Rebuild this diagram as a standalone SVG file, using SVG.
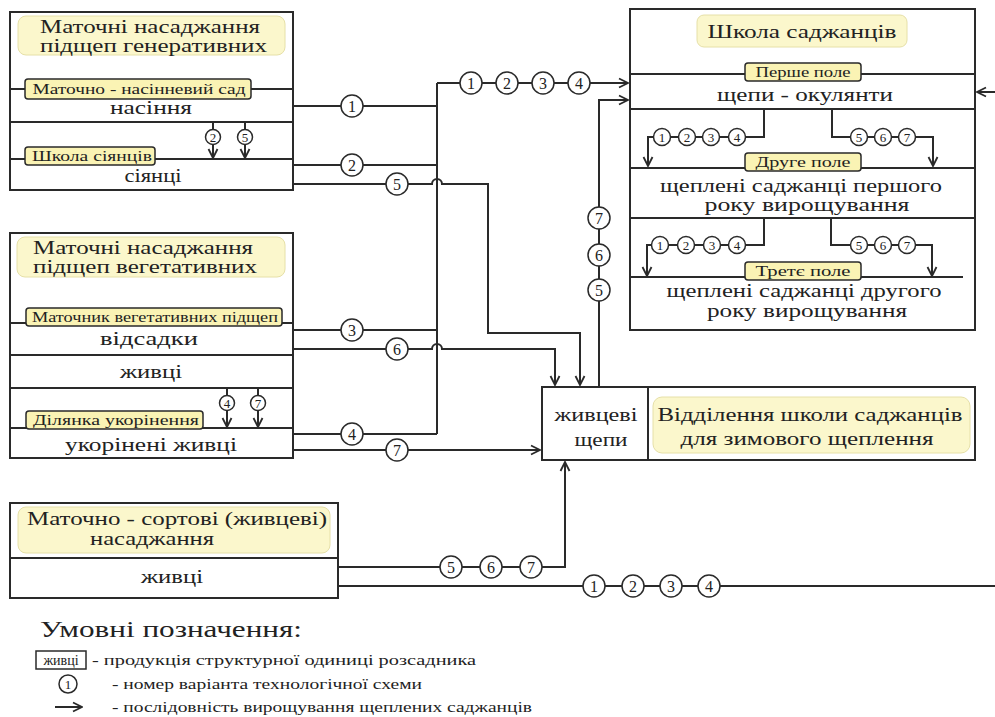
<svg xmlns="http://www.w3.org/2000/svg" width="995" height="717" viewBox="0 0 995 717" font-family="'Liberation Serif', 'DejaVu Serif', serif">
<style>
text{font-family:"Liberation Serif","DejaVu Serif",serif;fill:#222}
.box{fill:#fff;stroke:#2a2a2a;stroke-width:2}
.ln{fill:none;stroke:#2a2a2a;stroke-width:2}
.hd{fill:#fbf7cc;stroke:#e6e0a8;stroke-width:1}
.lb{fill:#faf3b4;stroke:#2a2a2a;stroke-width:1.5}
.c{fill:#fff;stroke:#2a2a2a;stroke-width:1.5}
.t20{font-size:18.5px;text-anchor:middle}
.t21{font-size:19px}
.th{font-size:18px}
.tl{font-size:14.5px;text-anchor:middle}
.tn{font-size:16px;text-anchor:middle}
.ts{font-size:13px;text-anchor:middle}
.lg{font-size:14px}
</style>
<defs>
<marker id="ah" viewBox="0 0 12 12" refX="11" refY="6" markerWidth="12" markerHeight="12" markerUnits="userSpaceOnUse" orient="auto"><path d="M2,1.5 L11,6 L2,10.5" fill="none" stroke="#2a2a2a" stroke-width="1.8"/></marker>
</defs>

<g id="n-generative">
<rect class="box" x="10" y="12" width="283" height="178"/>
<rect class="hd" x="18" y="16" width="267" height="39" rx="8"/>
<text class="th" x="40" y="33" textLength="220" lengthAdjust="spacingAndGlyphs">Маточні насаджання</text>
<text class="th" x="40" y="52" textLength="227" lengthAdjust="spacingAndGlyphs">підщеп генеративних</text>
<path class="ln" d="M10,89 H293 M10,122 H293 M10,159 H293"/>
<rect class="lb" x="25" y="79" width="226" height="20" rx="3"/>
<text class="tl" x="139" y="94" textLength="213" lengthAdjust="spacingAndGlyphs">Маточно - насінневий сад</text>
<text class="t20" x="151" y="114" textLength="82" lengthAdjust="spacingAndGlyphs">насіння</text>
<rect class="lb" x="25" y="147" width="130" height="18" rx="3"/>
<text class="tl" x="92" y="161" textLength="120" lengthAdjust="spacingAndGlyphs">Школа сіянців</text>
<text class="t20" x="153" y="182" textLength="57" lengthAdjust="spacingAndGlyphs">сіянці</text>
</g>

<g id="n-vegetative">
<rect class="box" x="10" y="233" width="283" height="225"/>
<rect class="hd" x="17" y="237" width="268" height="40" rx="8"/>
<text class="th" x="33" y="254" textLength="220" lengthAdjust="spacingAndGlyphs">Маточні насаджання</text>
<text class="th" x="33" y="273" textLength="224" lengthAdjust="spacingAndGlyphs">підщеп вегетативних</text>
<path class="ln" d="M10,323 H293 M10,355 H293 M10,388 H293 M10,428 H293"/>
<rect class="lb" x="26" y="308" width="256" height="18" rx="3"/>
<text class="tl" x="155" y="322" textLength="246" lengthAdjust="spacingAndGlyphs">Маточник вегетативних підщеп</text>
<text class="t20" x="149" y="345" textLength="98" lengthAdjust="spacingAndGlyphs">відсадки</text>
<text class="t20" x="151" y="378" textLength="62" lengthAdjust="spacingAndGlyphs">живці</text>
<rect class="lb" x="26" y="411" width="177" height="18" rx="3"/>
<text class="tl" x="116" y="425" textLength="166" lengthAdjust="spacingAndGlyphs">Ділянка укорінення</text>
<text class="t20" x="151" y="451" textLength="172" lengthAdjust="spacingAndGlyphs">укорінені живці</text>
</g>

<g id="n-school">
<rect class="box" x="630" y="9" width="345" height="321"/>
<rect class="hd" x="697" y="15" width="210" height="32" rx="7"/>
<text class="t21" x="802" y="38" text-anchor="middle" textLength="189" lengthAdjust="spacingAndGlyphs">Школа саджанців</text>
<path class="ln" d="M630,74 H975 M630,109 H975 M630,168 H975 M630,218 H975 M630,277 H963"/>
<rect class="lb" x="745" y="63" width="116" height="18" rx="3"/>
<text class="tl" x="803" y="77" textLength="95" lengthAdjust="spacingAndGlyphs">Перше поле</text>
<text class="t20" x="805" y="101" textLength="176" lengthAdjust="spacingAndGlyphs">щепи - окулянти</text>
<rect class="lb" x="745" y="153" width="116" height="18" rx="3"/>
<text class="tl" x="803" y="167" textLength="95" lengthAdjust="spacingAndGlyphs">Друге поле</text>
<text class="t20" x="801" y="192" textLength="282" lengthAdjust="spacingAndGlyphs">щеплені саджанці першого</text>
<text class="t20" x="807" y="211" textLength="205" lengthAdjust="spacingAndGlyphs">року вирощування</text>
<rect class="lb" x="745" y="262" width="116" height="18" rx="3"/>
<text class="tl" x="803" y="276" textLength="95" lengthAdjust="spacingAndGlyphs">Третє поле</text>
<text class="t20" x="804" y="297" textLength="275" lengthAdjust="spacingAndGlyphs">щеплені саджанці другого</text>
<text class="t20" x="807" y="317" textLength="200" lengthAdjust="spacingAndGlyphs">року вирощування</text>
</g>

<g id="n-winter">
<rect class="box" x="542" y="387" width="433" height="73"/>
<path class="ln" d="M648,387 V460"/>
<text class="t20" x="596" y="421" textLength="83" lengthAdjust="spacingAndGlyphs">живцеві</text>
<text class="t20" x="601" y="446" textLength="53" lengthAdjust="spacingAndGlyphs">щепи</text>
<rect class="hd" x="653" y="397" width="317" height="56" rx="9"/>
<text class="t21" x="810" y="421" text-anchor="middle" textLength="305" lengthAdjust="spacingAndGlyphs">Відділення школи саджанців</text>
<text class="t21" x="807" y="445" text-anchor="middle" textLength="253" lengthAdjust="spacingAndGlyphs">для зимового щеплення</text>
</g>

<g id="n-varietal">
<rect class="box" x="10" y="503" width="328" height="95"/>
<rect class="hd" x="18" y="507" width="312" height="46" rx="8"/>
<text class="t21" x="27" y="525" textLength="300" lengthAdjust="spacingAndGlyphs">Маточно - сортові (живцеві)</text>
<text class="t21" x="90" y="545" textLength="124" lengthAdjust="spacingAndGlyphs">насаджання</text>
<path class="ln" d="M10,558 H338"/>
<text class="t20" x="172" y="583" textLength="62" lengthAdjust="spacingAndGlyphs">живці</text>
</g>

<g id="connectors">
<path class="ln" d="M437,83 V434"/>
<path class="ln" d="M293,106 H437"/>
<path class="ln" d="M293,165 H437"/>
<path class="ln" d="M437,83 H628" marker-end="url(#ah)"/>
<path class="ln" d="M293,184 H432 A5,5 0 0 1 442,184 H488 V333 H580 V385" marker-end="url(#ah)"/>
<path class="ln" d="M293,330 H437"/>
<path class="ln" d="M293,349 H432 A5,5 0 0 1 442,349 H555 V385" marker-end="url(#ah)"/>
<path class="ln" d="M293,434 H437"/>
<path class="ln" d="M293,450 H540" marker-end="url(#ah)"/>
<path class="ln" d="M599,387 V100 H628" marker-end="url(#ah)"/>
<path class="ln" d="M338,567 H565 V462" marker-end="url(#ah)"/>
<path class="ln" d="M338,586 H995"/>
<path class="ln" d="M995,92 H977" marker-end="url(#ah)"/>
<path class="ln" d="M213,122 V158" marker-end="url(#ah)"/>
<path class="ln" d="M245,122 V158" marker-end="url(#ah)"/>
<path class="ln" d="M227,388 V427" marker-end="url(#ah)"/>
<path class="ln" d="M258,388 V427" marker-end="url(#ah)"/>
<path class="ln" d="M764,109 V137 H648 V166" marker-end="url(#ah)"/>
<path class="ln" d="M832,109 V137 H933 V166" marker-end="url(#ah)"/>
<path class="ln" d="M764,218 V245 H647 V276" marker-end="url(#ah)"/>
<path class="ln" d="M831,218 V245 H932 V276" marker-end="url(#ah)"/>
<g>
<circle class="c" cx="352" cy="106" r="11"/><text class="tn" x="352" y="112">1</text>
<circle class="c" cx="352" cy="165" r="11"/><text class="tn" x="352" y="171">2</text>
<circle class="c" cx="397" cy="184" r="11"/><text class="tn" x="397" y="190">5</text>
<circle class="c" cx="471" cy="83" r="11"/><text class="tn" x="471" y="89">1</text>
<circle class="c" cx="507" cy="83" r="11"/><text class="tn" x="507" y="89">2</text>
<circle class="c" cx="543" cy="83" r="11"/><text class="tn" x="543" y="89">3</text>
<circle class="c" cx="579" cy="83" r="11"/><text class="tn" x="579" y="89">4</text>
<circle class="c" cx="352" cy="330" r="11"/><text class="tn" x="352" y="336">3</text>
<circle class="c" cx="397" cy="349" r="11"/><text class="tn" x="397" y="355">6</text>
<circle class="c" cx="352" cy="434" r="11"/><text class="tn" x="352" y="440">4</text>
<circle class="c" cx="397" cy="450" r="11"/><text class="tn" x="397" y="456">7</text>
<circle class="c" cx="599" cy="218" r="11"/><text class="tn" x="599" y="224">7</text>
<circle class="c" cx="599" cy="255" r="11"/><text class="tn" x="599" y="261">6</text>
<circle class="c" cx="599" cy="290" r="11"/><text class="tn" x="599" y="296">5</text>
<circle class="c" cx="451" cy="567" r="11"/><text class="tn" x="451" y="573">5</text>
<circle class="c" cx="491" cy="567" r="11"/><text class="tn" x="491" y="573">6</text>
<circle class="c" cx="531" cy="567" r="11"/><text class="tn" x="531" y="573">7</text>
<circle class="c" cx="594" cy="586" r="11"/><text class="tn" x="594" y="592">1</text>
<circle class="c" cx="633" cy="586" r="11"/><text class="tn" x="633" y="592">2</text>
<circle class="c" cx="671" cy="586" r="11"/><text class="tn" x="671" y="592">3</text>
<circle class="c" cx="709" cy="586" r="11"/><text class="tn" x="709" y="592">4</text>
<circle class="c" cx="213" cy="137" r="7.5"/><text class="ts" x="213" y="142">2</text>
<circle class="c" cx="245" cy="137" r="7.5"/><text class="ts" x="245" y="142">5</text>
<circle class="c" cx="227" cy="403" r="7.5"/><text class="ts" x="227" y="408">4</text>
<circle class="c" cx="258" cy="403" r="7.5"/><text class="ts" x="258" y="408">7</text>
<circle class="c" cx="662" cy="137" r="8.5"/><text class="ts" x="662" y="142">1</text>
<circle class="c" cx="687" cy="137" r="8.5"/><text class="ts" x="687" y="142">2</text>
<circle class="c" cx="711" cy="137" r="8.5"/><text class="ts" x="711" y="142">3</text>
<circle class="c" cx="737" cy="137" r="8.5"/><text class="ts" x="737" y="142">4</text>
<circle class="c" cx="859" cy="137" r="8.5"/><text class="ts" x="859" y="142">5</text>
<circle class="c" cx="883" cy="137" r="8.5"/><text class="ts" x="883" y="142">6</text>
<circle class="c" cx="907" cy="137" r="8.5"/><text class="ts" x="907" y="142">7</text>
<circle class="c" cx="660" cy="245" r="8.5"/><text class="ts" x="660" y="250">1</text>
<circle class="c" cx="686" cy="245" r="8.5"/><text class="ts" x="686" y="250">2</text>
<circle class="c" cx="712" cy="245" r="8.5"/><text class="ts" x="712" y="250">3</text>
<circle class="c" cx="737" cy="245" r="8.5"/><text class="ts" x="737" y="250">4</text>
<circle class="c" cx="859" cy="245" r="8.5"/><text class="ts" x="859" y="250">5</text>
<circle class="c" cx="883" cy="245" r="8.5"/><text class="ts" x="883" y="250">6</text>
<circle class="c" cx="907" cy="245" r="8.5"/><text class="ts" x="907" y="250">7</text>
</g>
</g>

<g id="legend">
<text x="40" y="637" style="font-size:24px" textLength="262" lengthAdjust="spacingAndGlyphs">Умовні позначення:</text>
<rect x="36" y="651" width="50" height="18" fill="#fff" stroke="#2a2a2a" stroke-width="1.5"/>
<text class="lg" x="61" y="665" text-anchor="middle">живці</text>
<text class="lg" x="92" y="665" textLength="384" lengthAdjust="spacingAndGlyphs">- продукція структурної одиниці розсадника</text>
<circle class="c" cx="68" cy="684" r="9"/><text class="ts" x="68" y="689">1</text>
<text class="lg" x="112" y="689" textLength="310" lengthAdjust="spacingAndGlyphs">- номер варіанта технологічної схеми</text>
<path class="ln" d="M55,707 H82" marker-end="url(#ah)"/>
<text class="lg" x="112" y="712" textLength="420" lengthAdjust="spacingAndGlyphs">- послідовність вирощування щеплених саджанців</text>
</g>
</svg>
